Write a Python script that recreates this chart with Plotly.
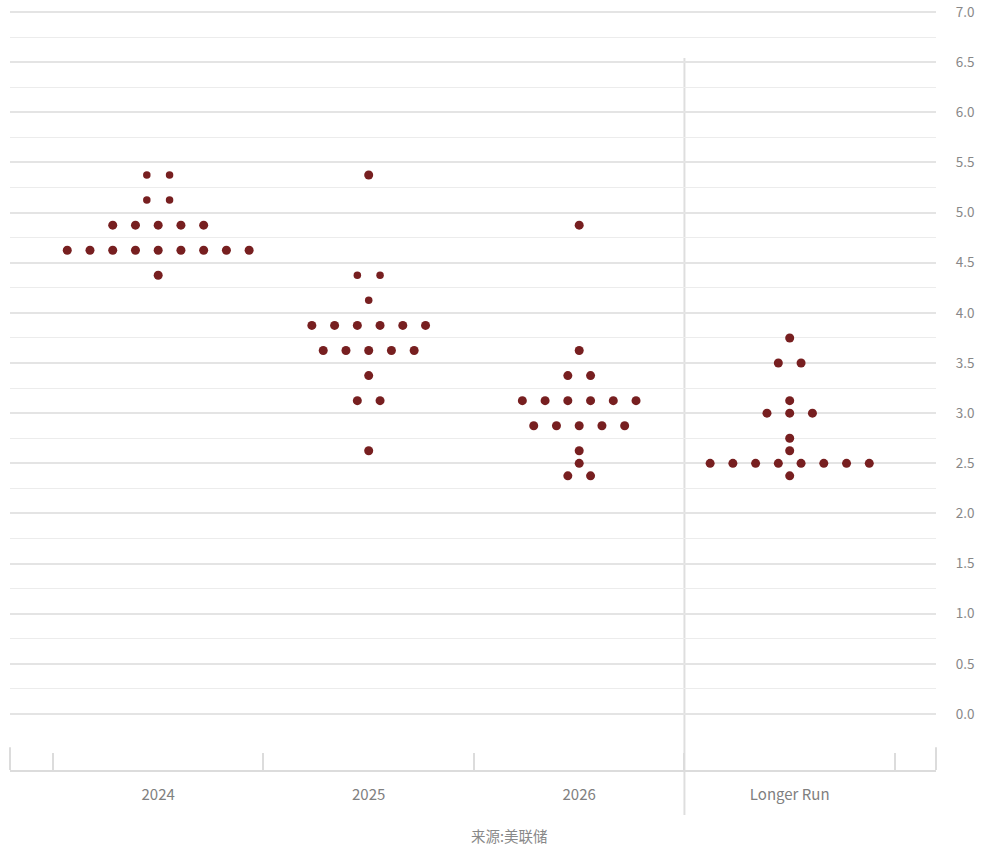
import plotly.graph_objects as go

# ---- data ----
categories = ["2024", "2025", "2026", "Longer Run"]

rates_2024 = [5.375, 5.125, 4.875, 4.625, 4.375]
counts_2024 = [2, 2, 5, 9, 1]

rates_2025 = [5.375, 4.375, 4.125, 3.875, 3.625, 3.375, 3.125, 2.625]
counts_2025 = [1, 2, 1, 6, 5, 1, 2, 1]

rates_2026 = [4.875, 3.625, 3.375, 3.125, 2.875, 2.625, 2.5, 2.375]
counts_2026 = [1, 1, 2, 6, 5, 1, 1, 2]

rates_lr = [3.75, 3.5, 3.125, 3.0, 2.75, 2.625, 2.5, 2.375]
counts_lr = [1, 2, 1, 3, 1, 1, 8, 1]

y_tick_vals = [i * 0.5 for i in range(15)]
y_tick_text = [f"{v:.1f}" for v in y_tick_vals]
y_minor_vals = [0.25 + i * 0.5 for i in range(14)]

source_text = "来源:美联储"

# ---- styling ----
DOT_COLOR = "#771f20"
FONT = "Noto Sans CJK SC"
DOT_STEP = 0.108          # horizontal spacing between dots (category units)
BIG, SMALL = 9, 7.5
small_rows = {("2024", 5.375), ("2024", 5.125), ("2025", 4.375), ("2025", 4.125)}

series = [
    (categories[0], rates_2024, counts_2024),
    (categories[1], rates_2025, counts_2025),
    (categories[2], rates_2026, counts_2026),
    (categories[3], rates_lr, counts_lr),
]

xs, ys, sizes = [], [], []
for ci, (cat, rates, counts) in enumerate(series):
    for r, n in zip(rates, counts):
        for k in range(n):
            xs.append(ci + (k - (n - 1) / 2) * DOT_STEP)
            ys.append(r)
            sizes.append(SMALL if (cat, r) in small_rows else BIG)

fig = go.Figure()
fig.add_trace(go.Scatter(
    x=xs, y=ys, mode="markers",
    marker=dict(color=DOT_COLOR, size=sizes, opacity=1, line=dict(width=0)),
    hoverinfo="skip", showlegend=False,
))

AX = "#dcdcdc"
fig.update_layout(
    width=996, height=852,
    margin=dict(l=10, r=60, t=8, b=82, autoexpand=False),
    paper_bgcolor="white", plot_bgcolor="white",
    hovermode=False,
    font=dict(family=FONT, color="#888888"),
    xaxis=dict(
        range=[-0.704, 3.695],
        automargin=False,
        tickmode="array", tickvals=list(range(len(categories))), ticktext=categories,
        ticks="inside", ticklen=0, tickcolor="rgba(0,0,0,0)",
        minor=dict(tickmode="array", tickvals=[-0.5, 0.5, 1.5, 2.5, 3.5],
                   ticks="inside", ticklen=17, tickwidth=2, tickcolor=AX, showgrid=False),
        showgrid=False, zeroline=False,
        showline=True, linecolor=AX, linewidth=2,
        tickfont=dict(size=15, color="#808080"),
        ticklabelstandoff=10,
    ),
    yaxis=dict(
        range=[-0.558, 7.04],
        automargin=False,
        side="right",
        tickmode="array", tickvals=y_tick_vals, ticktext=y_tick_text,
        ticks="outside", ticklen=16, tickcolor="rgba(0,0,0,0)",
        ticklabeloverflow="allow",
        showgrid=True, gridcolor="#e4e4e4", gridwidth=2,
        minor=dict(tickmode="array", tickvals=y_minor_vals, showgrid=True,
                   gridcolor="#ececec", gridwidth=1),
        zeroline=False, showline=False,
        tickfont=dict(size=13.5, color="#888888"),
    ),
    shapes=[
        # divider before Longer Run
        dict(type="line", xref="x", yref="paper", x0=2.5, x1=2.5, y0=-0.0591, y1=0.9344,
             line=dict(color="rgba(0,0,0,0.13)", width=2), layer="below"),
        # outer end ticks of the category axis
        dict(type="line", xref="paper", yref="paper", x0=0, x1=0, y0=0, y1=0.03,
             line=dict(color=AX, width=2)),
        dict(type="line", xref="paper", yref="paper", x0=1, x1=1, y0=0, y1=0.03,
             line=dict(color=AX, width=2)),
    ],
    annotations=[
        dict(text=source_text, xref="paper", yref="paper", x=0.539, y=-0.0866,
             showarrow=False, font=dict(size=14.5, color="#888888"),
             xanchor="center", yanchor="middle"),
    ],
)

fig.write_html("out.html", config={"displayModeBar": False, "staticPlot": True},
               post_script="document.body.style.margin='0';")
